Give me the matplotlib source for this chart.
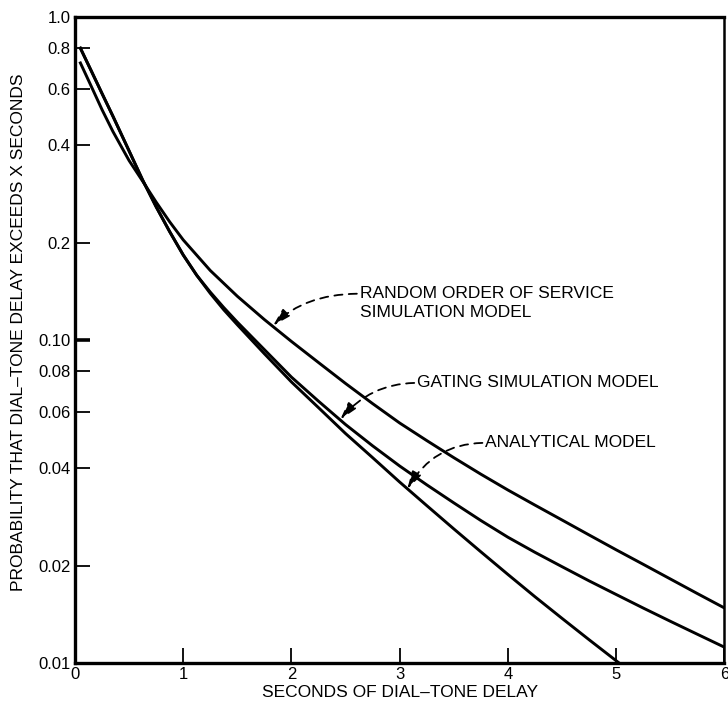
import matplotlib
matplotlib.use("Agg")
import matplotlib.pyplot as plt
from matplotlib.ticker import FixedLocator, FixedFormatter, NullLocator

plt.rcParams['font.family'] = ['Liberation Sans', 'DejaVu Sans']

# delay (seconds) vs probability that delay exceeds x
x_analytical = [0.05, 0.15, 0.25, 0.35, 0.5, 0.625, 0.75, 0.875, 1.0, 1.125, 1.25, 1.375, 1.5, 1.75,
                2.0, 2.25, 2.5, 2.75, 3.0, 3.25, 3.5, 3.75, 4.0, 4.25, 4.5, 4.75, 5.0, 5.1]
p_analytical = [0.800, 0.681, 0.579, 0.493, 0.3846, 0.3126, 0.2582, 0.2163, 0.1832, 0.1585, 0.1393,
                0.1239, 0.1114, 0.0906, 0.0741, 0.0617, 0.0513, 0.0432, 0.0363, 0.0307, 0.0260,
                0.02208, 0.01879, 0.01603, 0.01374, 0.0118, 0.01016, 0.00957]

x_gating = [0.05, 0.15, 0.25, 0.35, 0.5, 0.625, 0.75, 0.875, 1.0, 1.125, 1.25, 1.375, 1.5, 1.75,
            2.0, 2.25, 2.5, 2.75, 3.0, 3.25, 3.5, 3.75, 4.0, 4.25, 4.5, 4.75, 5.0, 5.25, 5.5,
            5.75, 6.0]
p_gating = [0.800, 0.681, 0.579, 0.493, 0.3846, 0.3126, 0.2582, 0.2163, 0.1832, 0.1585, 0.1406,
            0.1259, 0.1135, 0.0933, 0.0767, 0.0646, 0.0547, 0.0470, 0.0407, 0.0356, 0.0313,
            0.0276, 0.0245, 0.0220, 0.01986, 0.01795, 0.01629, 0.01479, 0.01346, 0.01227, 0.01119]

x_random = [0.05, 0.15, 0.25, 0.35, 0.5, 0.625, 0.75, 0.875, 1.0, 1.25, 1.5, 1.75, 2.0, 2.25,
            2.5, 2.75, 3.0, 3.25, 3.5, 3.75, 4.0, 4.25, 4.5, 4.75, 5.0, 5.25, 5.5, 5.75, 6.0]
p_random = [0.720, 0.610, 0.516, 0.442, 0.359, 0.310, 0.267, 0.232, 0.204, 0.164, 0.1365, 0.1156,
            0.0989, 0.0851, 0.0733, 0.0635, 0.0553, 0.0488, 0.0432, 0.0384, 0.0343, 0.0308,
            0.0277, 0.0249, 0.0224, 0.0202, 0.0182, 0.0164, 0.0148]

y_ticks = [1.0, 0.8, 0.6, 0.4, 0.2, 0.10, 0.08, 0.06, 0.04, 0.02, 0.01]
y_tick_labels = ["1.0", "0.8", "0.6", "0.4", "0.2", "0.10", "0.08", "0.06", "0.04", "0.02", "0.01"]
x_ticks = [0, 1, 2, 3, 4, 5, 6]

fig = plt.figure(figsize=(7.28, 7.03), dpi=100)
ax = fig.add_axes([0.103, 0.057, 0.892, 0.919])

ax.plot(x_random, p_random, color="black", lw=2.1)
ax.plot(x_gating, p_gating, color="black", lw=2.1)
ax.plot(x_analytical, p_analytical, color="black", lw=2.1)

ax.set_yscale("log")
ax.set_xlim(0, 6)
ax.set_ylim(0.01, 1.0)

ax.yaxis.set_major_locator(FixedLocator(y_ticks))
ax.yaxis.set_major_formatter(FixedFormatter(y_tick_labels))
ax.yaxis.set_minor_locator(NullLocator())
ax.set_xticks(x_ticks)
ax.set_xticklabels([str(t) for t in x_ticks])

ax.tick_params(axis="both", direction="in", length=11, width=1.3, labelsize=12, pad=3)
# the 0.10 tick is drawn heavier
ax.yaxis.get_major_ticks()[5].tick1line.set_markeredgewidth(2.6)

for side in ["left", "bottom", "top"]:
    ax.spines[side].set_linewidth(2.4)
ax.spines["right"].set_linewidth(1.8)

ax.set_xlabel("SECONDS OF DIAL\u2013TONE DELAY", fontsize=12.5, labelpad=2)
ax.set_ylabel("PROBABILITY THAT DIAL\u2013TONE DELAY EXCEEDS X SECONDS", fontsize=12.5)
ax.yaxis.set_label_coords(-0.075, 0.512)

arrow = dict(arrowstyle="-|>,head_length=0.9,head_width=0.25", color="black", lw=1.3,
             linestyle=(0, (4.5, 3.5)), shrinkA=0, shrinkB=0, relpos=(0, 0.5),
             mutation_scale=12)

ax.annotate("RANDOM ORDER OF SERVICE", xy=(1.83, 0.1106), xytext=(2.63, 0.139),
            fontsize=12.5, ha="left", va="center",
            arrowprops=dict(arrow, connectionstyle="angle3,angleA=0,angleB=45"))
ax.text(2.63, 0.122, "SIMULATION MODEL", fontsize=12.5, ha="left", va="center")

ax.annotate("GATING SIMULATION MODEL", xy=(2.45, 0.0566), xytext=(3.16, 0.0736),
            fontsize=12.5, ha="left", va="center",
            arrowprops=dict(arrow, connectionstyle="angle3,angleA=0,angleB=50"))

ax.annotate("ANALYTICAL MODEL", xy=(3.07, 0.0345), xytext=(3.79, 0.048),
            fontsize=12.5, ha="left", va="center",
            arrowprops=dict(arrow, connectionstyle="angle3,angleA=0,angleB=60"))

fig.savefig("out.png", dpi=100)
